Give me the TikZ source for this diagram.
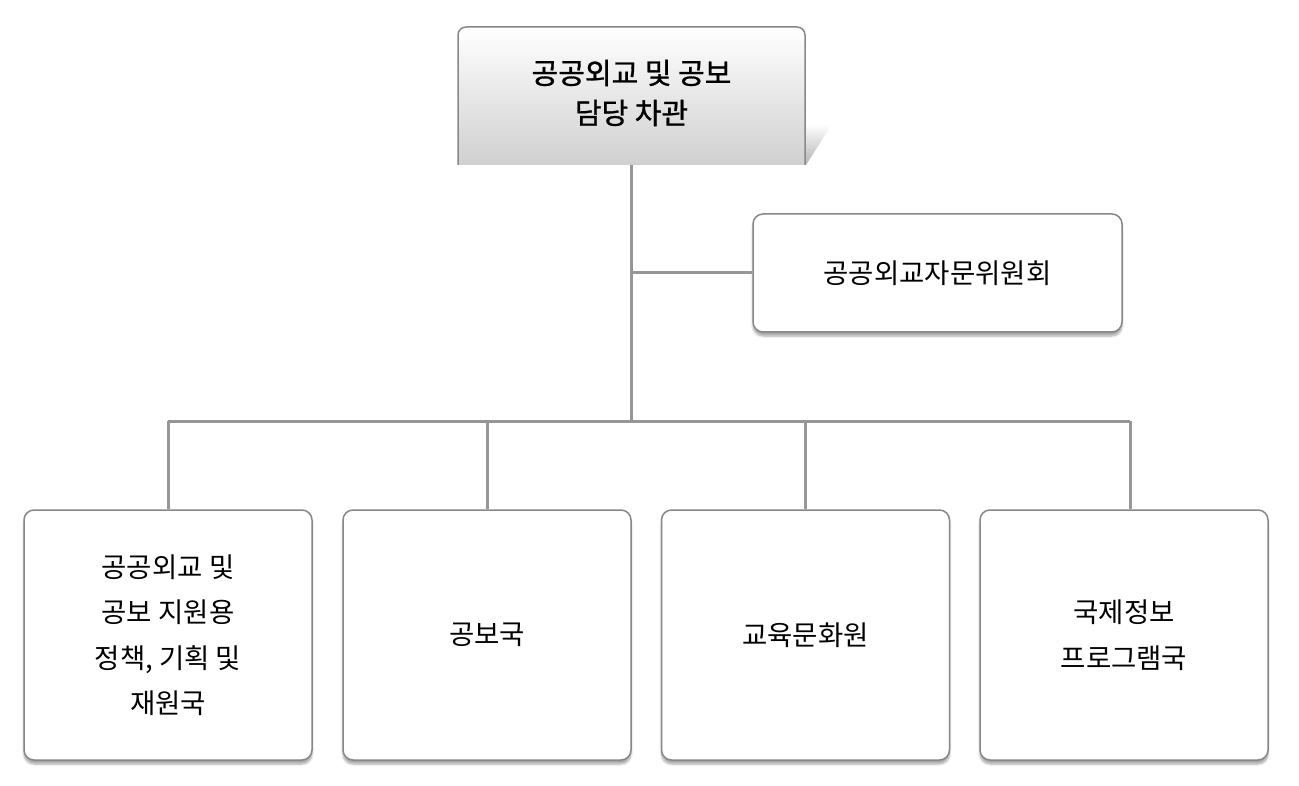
\documentclass[tikz,border=0pt]{standalone}
\usepackage{fontspec}
\setmainfont{Noto Sans CJK KR}
\newfontfamily\boldkr{Noto Sans CJK KR}[FakeBold=1]
\usetikzlibrary{shadows.blur}
\definecolor{linegray}{RGB}{150,150,150}
\definecolor{bordergray}{RGB}{135,135,135}
\tikzset{
 unitbox/.style={draw=bordergray, line width=1.5pt, fill=white, rounded corners=10pt,
   align=center, font=\fontsize{27.5}{45.5}\selectfont,
   blur shadow={shadow xshift=0pt, shadow yshift=-4pt, shadow blur steps=6, shadow opacity=35}},
 conn/.style={draw=linegray, line width=3pt}
}
\begin{document}
\begin{tikzpicture}[x=1pt,y=-1pt]
\useasboundingbox (0,0) rectangle (1299,786);
% top box
\shade[top color=white, bottom color=black!30] (806,124) -- (832,124) -- (806,165) -- cycle;
\begin{scope}
\clip (450,20) rectangle (812,165);
\shade[rounded corners=8pt, top color=white, bottom color=black!20] (458,27) rectangle (805,175);
\end{scope}
\draw[bordergray, line width=1.5pt, rounded corners=8pt] (458,165) -- (458,27) -- (805,27) -- (805,165);
\node[minimum width=347pt, minimum height=144pt, align=center, font=\boldkr\fontsize{29}{40}\selectfont] (top) at (631.5,93) {공공외교 및 공보\\담당 차관};
% advisory
\node[unitbox, minimum width=369pt, minimum height=118pt] (adv) at (937.5,273) {공공외교자문위원회};
% bottom units
\node[unitbox, minimum width=288pt, minimum height=250pt] (u1) at (168,635) {공공외교 및\\공보 지원용\\정책, 기획 및\\재원국};
\node[unitbox, minimum width=288pt, minimum height=250pt] (u2) at (487,635) {공보국};
\node[unitbox, minimum width=288pt, minimum height=250pt] (u3) at (805.5,635) {교육문화원};
\node[unitbox, minimum width=288pt, minimum height=250pt] (u4) at (1124,635) {국제정보\\프로그램국};
% connectors
\coordinate (j) at (631.5,421);
\coordinate (ja) at (631.5,273);
\coordinate (b1) at (168,421);
\coordinate (b4) at (1130,421);
\draw[conn] (top.south) -- (j);
\draw[conn] (ja) -- (adv.west);
\draw[conn] (b1) -- (b4);
\draw[conn] (b1) -- (u1.north);
\draw[conn] (u2.north |- j) -- (u2.north);
\draw[conn] (u3.north |- j) -- (u3.north);
\draw[conn] (b4) -- (b4 |- u4.north);
\end{tikzpicture}
\end{document}
